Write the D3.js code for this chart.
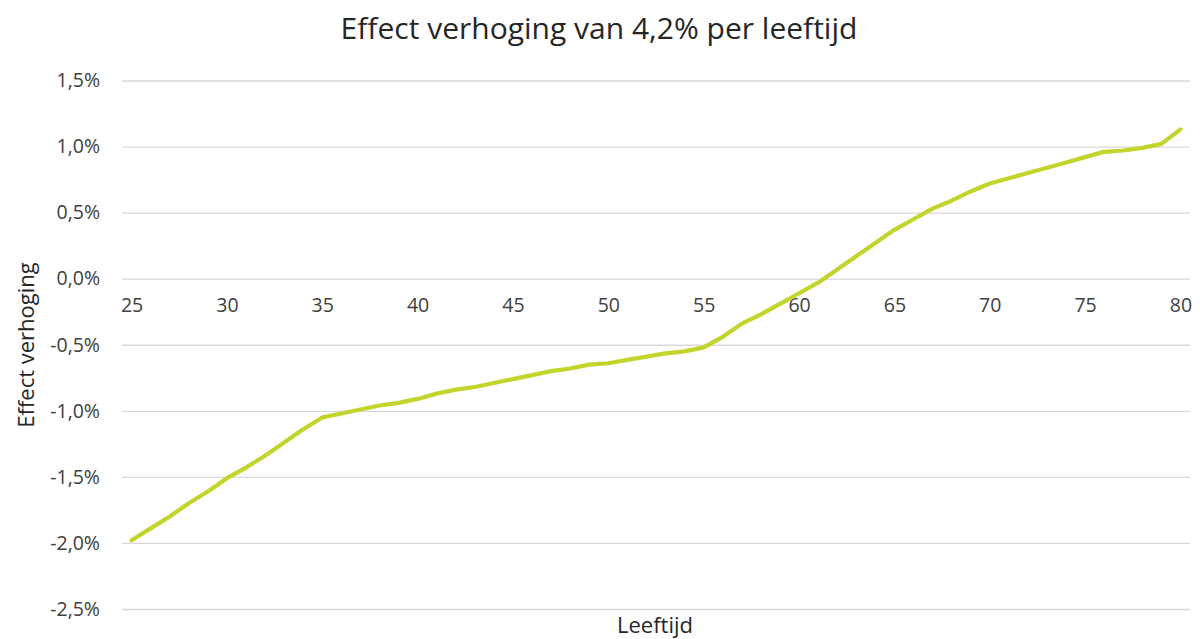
<!DOCTYPE html>
<html>
<head>
<meta charset="utf-8">
<script src="https://cdn.jsdelivr.net/npm/d3@7"></script>
<style>
  html, body { margin: 0; padding: 0; background: #fff; }
  svg { display: block; font-family: "Open Sans", "Noto Sans", sans-serif; }
</style>
</head>
<body>
<svg id="chart" width="1200" height="639"></svg>
<script>
const ages = d3.range(25, 81);
const effect = [
  -1.98, -1.89, -1.80, -1.70, -1.61, -1.51, -1.43, -1.34, -1.24, -1.14,
  -1.05, -1.02, -0.99, -0.96, -0.94, -0.91, -0.87, -0.84, -0.82, -0.79,
  -0.76, -0.73, -0.70, -0.68, -0.65, -0.64, -0.615, -0.59, -0.565, -0.55,
  -0.52, -0.44, -0.34, -0.27, -0.19, -0.11, -0.03, 0.07, 0.17, 0.27,
  0.37, 0.45, 0.53, 0.59, 0.66, 0.72, 0.76, 0.80, 0.84, 0.88,
  0.92, 0.96, 0.97, 0.99, 1.02, 1.13
];
const yTicks = [1.5, 1.0, 0.5, 0.0, -0.5, -1.0, -1.5, -2.0, -2.5];
const xTickLabels = [25, 30, 35, 40, 45, 50, 55, 60, 65, 70, 75, 80];
const title = "Effect verhoging van 4,2% per leeftijd";
const xTitle = "Leeftijd";
const yTitle = "Effect verhoging";

const svg = d3.select("#chart");
const plotL = 122, plotR = 1190, plotT = 80.5, plotB = 609;

const x = d3.scalePoint().domain(ages).range([plotL, plotR]).padding(0.5);
const y = d3.scaleLinear().domain([-2.5, 1.5]).range([plotB, plotT]);

const fmt = v => v.toFixed(1).replace(".", ",") + "%";

// gridlines + y labels
const yAxis = d3.axisLeft(y).tickValues(yTicks).tickSize(-(plotR - plotL)).tickFormat(fmt).tickPadding(22);
const gy = svg.append("g").attr("transform", `translate(${plotL},0)`).call(yAxis);
gy.select(".domain").remove();
gy.selectAll(".tick line").attr("stroke", "#d9d9d9").attr("stroke-width", 1.3);
gy.selectAll(".tick text").attr("fill", "#404040").attr("font-size", 19.5);

// x axis labels near zero line
const xAxis = d3.axisBottom(x).tickValues(xTickLabels).tickSize(0).tickPadding(19);
const gx = svg.append("g").attr("transform", `translate(0,${y(0)})`).call(xAxis);
gx.select(".domain").remove();
gx.selectAll(".tick text").attr("fill", "#404040").attr("font-size", 19.5);
gy.attr("font-family", null).attr("font-size", null);
gx.attr("font-family", null).attr("font-size", null);

// line
const line = d3.line().x((d, i) => x(ages[i])).y(d => y(d));
svg.append("path").datum(effect)
  .attr("d", line)
  .attr("fill", "none")
  .attr("stroke", "#c3d52c")
  .attr("stroke-width", 4.2)
  .attr("stroke-linejoin", "round")
  .attr("stroke-linecap", "round");

// title
svg.append("text").attr("x", 599).attr("y", 39).attr("text-anchor", "middle")
  .attr("font-size", 30).attr("fill", "#262626").text(title);

// axis titles
svg.append("text").attr("x", 655).attr("y", 633).attr("text-anchor", "middle")
  .attr("font-size", 22).attr("fill", "#262626").text(xTitle);
svg.append("text").attr("transform", "translate(34,345) rotate(-90)").attr("text-anchor", "middle")
  .attr("font-size", 22).attr("fill", "#262626").text(yTitle);
</script>
</body>
</html>
